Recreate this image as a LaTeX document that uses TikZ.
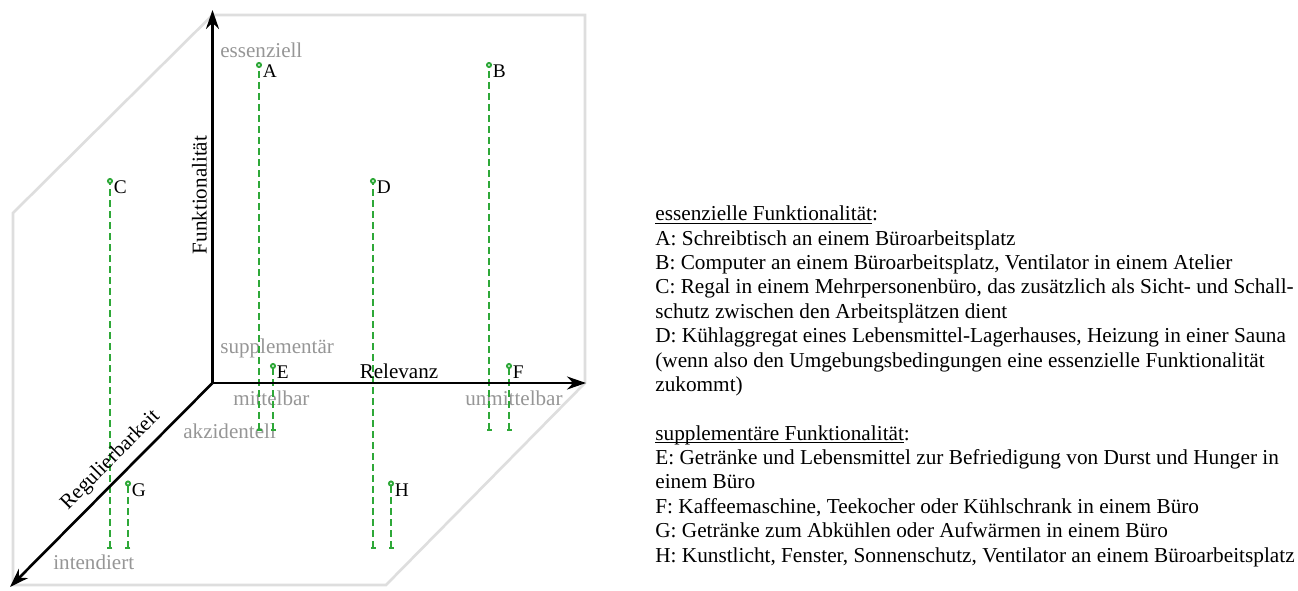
\documentclass[tikz,border=0pt]{standalone}
\usepackage{fontspec}
\setmainfont{Liberation Serif}
\usetikzlibrary{arrows.meta}
\definecolor{framegray}{RGB}{222,222,222}
\definecolor{levelgray}{RGB}{150,150,150}
\definecolor{dropgreen}{RGB}{46,168,56}
\newcommand{\ulbase}[1]{\underline{\smash{#1}\vphantom{x}}}

\tikzset{
	frame/.style={draw=framegray,line width=1.5pt},
	axis/.style={line width=1.5pt,-{Stealth[length=0.38cm,width=0.26cm]}},
	axislabel/.style={font=\fontsize{12}{14}\selectfont,inner sep=0pt},
	levellabel/.style={text=levelgray,font=\fontsize{12}{14}\selectfont,anchor=base west,inner sep=0pt},
	drop/.style={dropgreen,line width=1.1pt,dash pattern=on 0.13cm off 0.09cm,
		{Bar[width=0.1cm]}-{Circle[open,length=0.12cm]},shorten >=-0.06cm},
	ptlabel/.style={font=\fontsize{11}{13}\selectfont,anchor=base west,inner sep=0pt,xshift=0.07cm,yshift=-0.25cm}
}

\begin{document}
\begin{tikzpicture}
	\useasboundingbox (-4.25,-4.14) rectangle (21.71,7.66);

        \coordinate (O) at (0,0);
        \coordinate (funk) at (0,7.46);
        \coordinate (rel) at (7.47,0);
        \coordinate (reg) at (-4.05,-4.08);

        \coordinate (a) at (0.93,6.36);
        \coordinate (b) at (5.53,6.36);
        \coordinate (c) at (-2.05,4.04);
        \coordinate (d) at (3.21,4.04);
        \coordinate (e) at (1.21,0.34);
        \coordinate (f) at (5.93,0.34);
        \coordinate (g) at (-1.69,-2.01);
        \coordinate (h) at (3.57,-2.01);

        \coordinate (a0) at (0.93,-0.96);
        \coordinate (b0) at (5.53,-0.96);
        \coordinate (c0) at (-2.05,-3.32);
        \coordinate (d0) at (3.21,-3.32);
        \coordinate (e0) at (1.21,-0.96);
        \coordinate (f0) at (5.93,-0.96);
        \coordinate (g0) at (-1.69,-3.32);
        \coordinate (h0) at (3.57,-3.32);

        \draw[frame] (0,7.36) -- (7.45,7.36) -- (7.45,0) -- (3.47,-4.04) -- (-3.99,-4.04) -- (-3.99,3.4) -- cycle;

        \node[levellabel] (ess) at (0.15,6.51) {essenziell};
        \node[levellabel] (supp) at (0.15,0.59) {supplementär};
        \node[levellabel] (mit) at (0.41,-0.44) {mittelbar};
        \node[levellabel] (unmit) at (5.05,-0.44) {unmittelbar};
        \node[levellabel] (akz) at (-0.59,-1.1) {akzidentell};
        \node[levellabel] (int) at (-3.19,-3.72) {intendiert};

        \draw[drop] (a0) -- (a);
        \draw[drop] (b0) -- (b);
        \draw[drop] (c0) -- (c);
        \draw[drop] (d0) -- (d);
        \draw[drop] (e0) -- (e);
        \draw[drop] (f0) -- (f);
        \draw[drop] (g0) -- (g);
        \draw[drop] (h0) -- (h);

        \draw[axis] (O) -- (funk);
        \draw[axis] (O) -- (rel);
        \draw[axis] (O) -- (reg) node[axislabel,pos=0.44,sloped,above=4pt] (reglabel) {Regulierbarkeit};

        \node[axislabel,rotate=90,anchor=base] (funklabel) at (-0.12,3.76) {Funktionalität};
        \node[axislabel,anchor=base] (rellabel) at (3.73,0.1) {Relevanz};

        \node[ptlabel] (A) at (a) {A};
        \node[ptlabel] (B) at (b) {B};
        \node[ptlabel] (C) at (c) {C};
        \node[ptlabel] (D) at (d) {D};
        \node[ptlabel] (E) at (e) {E};
        \node[ptlabel] (F) at (f) {F};
        \node[ptlabel] (G) at (g) {G};
        \node[ptlabel] (H) at (h) {H};

        \node[anchor=north west,inner sep=0pt,align=left,font=\fontsize{12.1}{13.87}\selectfont] (legend) at (8.85,3.45)
        {\ulbase{essenzielle Funktionalität}:\\
        A: Schreibtisch an einem Büroarbeitsplatz\\
        B: Computer an einem Büroarbeitsplatz, Ventilator in einem Atelier\\
        C: Regal in einem Mehrpersonenbüro, das zusätzlich als Sicht- und Schall-\\
        schutz zwischen den Arbeitsplätzen dient\\
        D: Kühlaggregat eines Lebensmittel-Lagerhauses, Heizung in einer Sauna\\
        (wenn also den Umgebungsbedingungen eine essenzielle Funktionalität\\
        zukommt)\\[13.87pt]
        \ulbase{supplementäre Funktionalität}:\\
        E: Getränke und Lebensmittel zur Befriedigung von Durst und Hunger in\\
        einem Büro\\
        F: Kaffeemaschine, Teekocher oder Kühlschrank in einem Büro\\
        G: Getränke zum Abkühlen oder Aufwärmen in einem Büro\\
        H: Kunstlicht, Fenster, Sonnenschutz, Ventilator an einem Büroarbeitsplatz};
\end{tikzpicture}
\end{document}
